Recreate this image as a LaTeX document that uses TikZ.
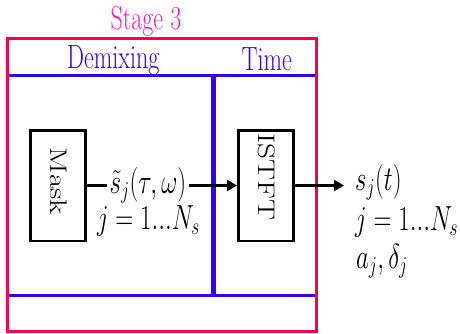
\documentclass[tikz,border=0pt]{standalone}
\usepackage{graphicx}
\usetikzlibrary{arrows.meta}
\definecolor{framered}{RGB}{255,0,70}
\definecolor{stagemag}{RGB}{255,20,200}
\definecolor{secblue}{RGB}{50,0,255}
\newcommand{\vstr}[1]{\scalebox{1}[1.4]{#1}}
\newcommand{\hstr}[1]{\scalebox{1.3}[1]{#1}}
\begin{document}
\begin{tikzpicture}[x=1pt,y=-1pt,
  every node/.style={font=\fontsize{24}{28}\selectfont, inner sep=0pt},
  mathlabel/.style={font=\fontsize{25}{30}\selectfont},
  procbox/.style={draw=black, line width=2.7pt, minimum width=55pt, minimum height=110.7pt},
  flow/.style={line width=3pt, -{Triangle[length=10pt,width=11pt]}},
  secline/.style={draw=secblue, line width=2.6pt},
  stageline/.style={draw=framered, line width=2.6pt}]
\useasboundingbox (0,0) rectangle (460,333);
% section frames
\draw[secline] (7.2,75.7) rectangle (212.5,295.3);
\draw[secline] (215,75.7) rectangle (316.7,295.3);
\draw[stageline] (7.2,38.7) rectangle (316.7,331.5);
% titles
\node[anchor=base, text=stagemag] (stage) at (146,29.5) {\vstr{Stage 3}};
\node[anchor=base, text=secblue] (demix) at (113.3,68) {\vstr{Demixing}};
\node[anchor=base, text=secblue] (time) at (266.7,70.5) {\vstr{Time}};
% boxes
\node[procbox] (mask) at (57.85,185.5) {};
\node[procbox] (istft) at (265.85,185.5) {};
\node[rotate=-90] (masktxt) at (58.3,181.5) {\hstr{Mask}};
\node[rotate=-90] (istfttxt) at (267,177) {\hstr{ISTFT}};
% connectors
\draw[flow] (mask.east) -- (istft.west);
\coordinate (outend) at (344,185.5);
\draw[flow] (istft.east) -- (outend);
% labels
\node[mathlabel, fill=white, inner xsep=3pt, inner ysep=0pt] (stl) at (148,185) {\vstr{$\tilde{s}_j(\tau,\omega)$}};
\node[mathlabel, anchor=base] (jl) at (148.5,229) {\vstr{$j=1...N_s$}};
\node[mathlabel, anchor=base west] (o1) at (355,190) {\vstr{$s_j(t)$}};
\node[mathlabel, anchor=base west] (o2) at (355,230) {\vstr{$j=1...N_s$}};
\node[mathlabel, anchor=base west] (o3) at (356,268) {\vstr{$a_j,\delta_j$}};
\end{tikzpicture}
\end{document}
